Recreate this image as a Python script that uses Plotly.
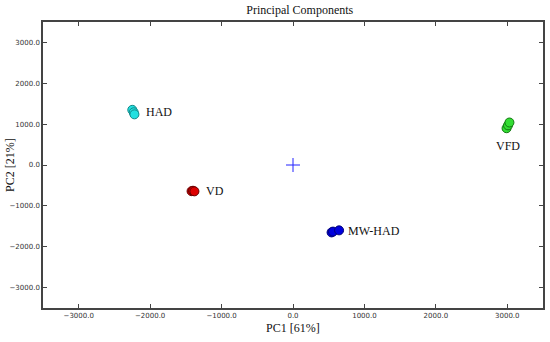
import plotly.graph_objects as go
import numpy as np

groups = ["HAD", "VD", "MW-HAD", "VFD"]
had_x = [-2250, -2230, -2220]
had_y = [1350, 1290, 1240]
vd_x = [-1420, -1400, -1380]
vd_y = [-640, -630, -645]
mwhad_x = [540, 560, 645]
mwhad_y = [-1650, -1630, -1600]
vfd_x = [2990, 3010, 3030]
vfd_y = [900, 970, 1040]
group_x = [had_x, vd_x, mwhad_x, vfd_x]
group_y = [had_y, vd_y, mwhad_y, vfd_y]
fill_colors = ["#22e0e0", "#dd0000", "#0000dd", "#33dd33"]
line_colors = ["#118888", "#660000", "#000077", "#117711"]
label_pos = ["right", "right", "right", "below"]

fig = go.Figure()
for name, xs, ys, fc, lc in zip(groups, group_x, group_y, fill_colors, line_colors):
    fig.add_trace(go.Scatter(x=xs, y=ys, mode="markers", name=name,
                             marker=dict(size=9, color=fc, line=dict(color=lc, width=1)),
                             showlegend=False))

# origin marker
fig.add_trace(go.Scatter(x=[0], y=[0], mode="markers", showlegend=False,
                         marker=dict(symbol="cross-thin", size=10, line=dict(color="#2222ff", width=1))))

for name, xs, ys, pos in zip(groups, group_x, group_y, label_pos):
    cx, cy = float(np.mean(xs)), float(np.mean(ys))
    if pos == "right":
        fig.add_annotation(x=cx, y=cy, text=name, showarrow=False, xanchor="left",
                           xshift=11, font=dict(family="Liberation Serif", size=12, color="#111"))
    else:
        fig.add_annotation(x=cx, y=cy, text=name, showarrow=False, yanchor="top",
                           yshift=-12, font=dict(family="Liberation Serif", size=12, color="#111"))

axis_common = dict(
    showgrid=False, zeroline=False, showline=True, linecolor="#444", linewidth=1.5,
    mirror="ticks", ticks="inside", ticklen=4, tickcolor="#444", automargin=False,
    tickformat=".1f", tickfont=dict(family="DejaVu Sans", size=7, color="#333"),
    dtick=1000, tick0=0,
)
fig.update_xaxes(range=[-3500, 3500], **axis_common)
fig.update_yaxes(range=[-3500, 3500], **axis_common)

fig.add_annotation(text="PC1 [61%]", xref="paper", yref="paper", x=0.5, y=-0.07,
                   showarrow=False, xanchor="center", yanchor="middle",
                   font=dict(family="Liberation Serif", size=12, color="#111"))
fig.add_annotation(text="PC2 [21%]", xref="paper", yref="paper", x=-0.066, y=0.5, textangle=-90,
                   showarrow=False, xanchor="center", yanchor="middle",
                   font=dict(family="Liberation Serif", size=12, color="#111"))

fig.update_layout(
    width=550, height=342,
    margin=dict(l=43, r=7, t=22, b=34, autoexpand=False),
    plot_bgcolor="white", paper_bgcolor="white",
    title=dict(text="Principal Components", x=0.545, xanchor="center", y=0.97, yanchor="middle",
               font=dict(family="Liberation Serif", size=12, color="#111")),
)
fig.write_html("out.html", config={"displayModeBar": False},
               post_script="document.body.style.margin='0';")
